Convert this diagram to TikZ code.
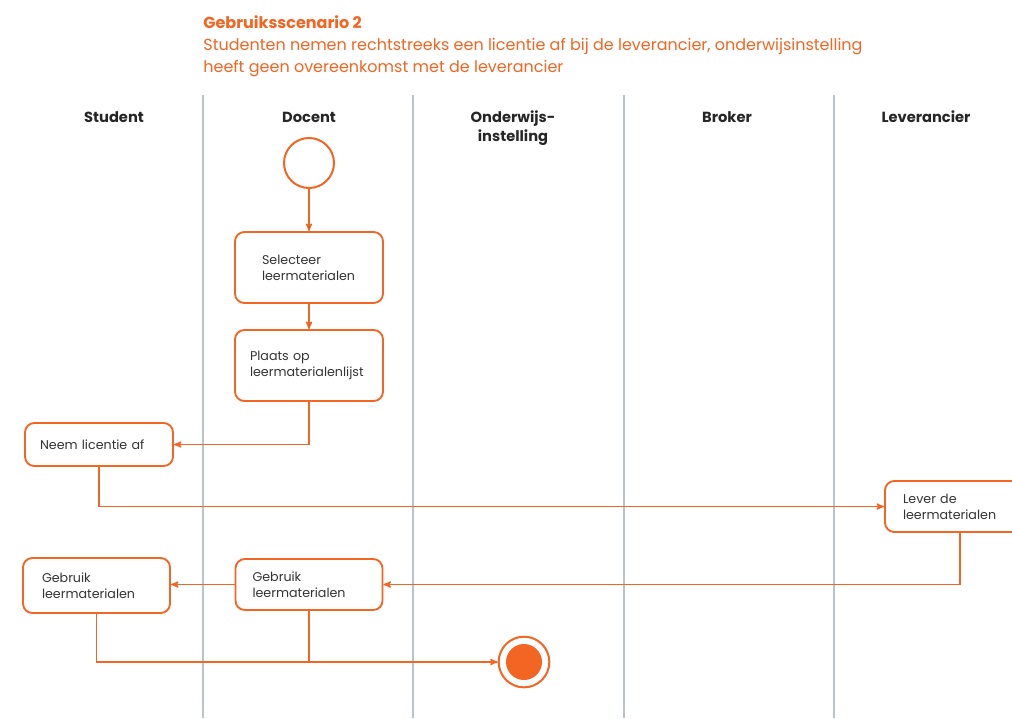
\documentclass[tikz,border=0pt]{standalone}
\usepackage{fontspec}
\setmainfont{Poppins}
\usetikzlibrary{arrows, positioning}
\definecolor{oranje}{HTML}{F26522}
\definecolor{baan}{HTML}{B9C3CC}
\definecolor{tekst}{HTML}{333333}

\begin{document}
\begin{tikzpicture}[->, >=stealth', semithick, x=0.75pt, y=-0.75pt, font=\fontsize{9.5}{12}\selectfont]
        \tikzstyle{lane}=[-, draw=baan, line width=1pt]
        \tikzstyle{kop}=[font=\fontsize{11}{14}\selectfont\bfseries, text=black!85, align=center]
        \tikzstyle{stap}=[draw=oranje, line width=1.4pt, rounded corners=7pt, fill=white, text=tekst, align=left, inner ysep=0pt]
        \tikzstyle{lijn}=[draw=oranje, line width=1pt]
        \useasboundingbox (0,0) rectangle (1012,718);
        % titel
        \node[anchor=north west, inner sep=0pt, text=oranje, align=left, font=\fontsize{12}{16.5}\selectfont] (titel) at (203,15)
          {\textbf{Gebruiksscenario 2}\\Studenten nemen rechtstreeks een licentie af bij de leverancier, onderwijsinstelling\\heeft geen overeenkomst met de leverancier};
        % banen
        \foreach \x in {203, 413, 624, 834}
          \draw[lane] (\x,95) -- (\x,718);
        \node[kop] (student) at (114,117) {Student};
        \node[kop] (docent) at (309,117) {Docent};
        \node[kop, anchor=north] (instelling) at (513,106) {Onderwijs-\\instelling};
        \node[kop] (broker) at (727,117) {Broker};
        \node[kop] (leverancier) at (926,117) {Leverancier};
        % stappen
        \node[circle, draw=oranje, line width=1.5pt, minimum size=37.5pt, inner sep=0pt] (start) at (309,163) {};
        \node[stap, minimum width=111pt, minimum height=53.25pt, inner xsep=20.25pt, text width=70.5pt] (selecteer) at (309,267.5) {Selecteer\\leermaterialen};
        \node[stap, minimum width=111pt, minimum height=53.25pt, inner xsep=11.25pt, text width=88.5pt] (plaats) at (309,365.5) {Plaats op\\leermaterialenlijst};
        \node[stap, minimum width=111pt, minimum height=32.25pt, inner xsep=11.25pt, text width=88.5pt] (neem) at (99,444.5) {Neem licentie af};
        \node[stap, minimum width=112.5pt, minimum height=38.25pt, inner xsep=13.5pt, text width=85.5pt] (lever) at (960,506.5) {Lever de\\leermaterialen};
        \node[stap, minimum width=110.25pt, minimum height=41.25pt, inner xsep=14.25pt, text width=81.75pt] (gebruikS) at (96.5,585.5) {Gebruik\\leermaterialen};
        \node[stap, minimum width=110.25pt, minimum height=38.25pt, inner xsep=12.75pt, text width=84.75pt] (gebruikD) at (309,584.5) {Gebruik\\leermaterialen};
        \node[circle, draw=oranje, line width=1.5pt, minimum size=38pt, inner sep=0pt] (eind) at (524,662) {};
        \node[circle, fill=oranje, minimum size=27pt, inner sep=0pt] (eindkern) at (eind) {};
        % pijlen
        \path[lijn]
        (start) edge (selecteer)
        (selecteer) edge (plaats);
        \draw[lijn] (plaats.south) |- (neem.east);
        \draw[lijn] (neem.south) |- (lever.west);
        \draw[lijn] (lever.south) |- (gebruikD.east);
        \draw[lijn] (gebruikD.west) -- (gebruikD.west -| gebruikS.east);
        \draw[lijn] (gebruikS.south) |- (eind.west);
        \draw[lijn, -] (gebruikD.south) -- (gebruikD.south |- eind.west);
      \end{tikzpicture}
\end{document}
